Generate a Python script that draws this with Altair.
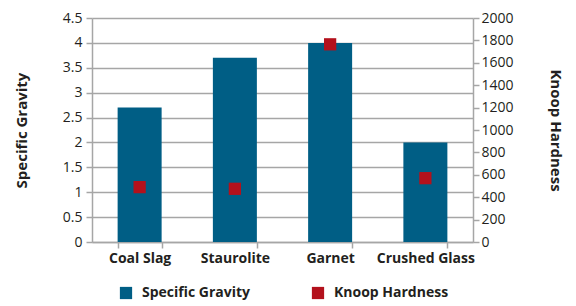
import altair as alt
import pandas as pd

categories = ["Coal Slag", "Staurolite", "Garnet", "Crushed Glass"]
specific_gravity = [2.7, 3.7, 4.0, 2.0]
knoop_hardness = [490, 475, 1765, 570]

df = pd.DataFrame({
    "Material": categories,
    "SG": specific_gravity,
    "Knoop": knoop_hardness,
    "s1": ["Specific Gravity"] * 4,
    "s2": ["Knoop Hardness"] * 4,
})

FONT = "Open Sans"
TXT = "#231f20"
GRID = "#a6a6a6"
color_scale = alt.Scale(domain=["Specific Gravity", "Knoop Hardness"], range=["#005E85", "#B3111C"])

x = alt.X("Material:N", sort=categories, title=None,
          scale=alt.Scale(paddingInner=0.54, paddingOuter=0.27),
          axis=alt.Axis(labelAngle=0, labelFont=FONT, labelFontWeight="bold", labelFontSize=14,
                        labelColor=TXT, tickBand="extent", tickColor=GRID, tickSize=6,
                        domainColor=GRID, domainWidth=1.5, tickWidth=1.5, labelPadding=3))

bars = alt.Chart(df).mark_bar(size=44).encode(
    x=x,
    y=alt.Y("SG:Q", title="Specific Gravity",
            scale=alt.Scale(domain=[0, 4.5]),
            axis=alt.Axis(values=[0, 0.5, 1, 1.5, 2, 2.5, 3, 3.5, 4, 4.5], format="~g", labelFont=FONT,
                          labelFontSize=14, labelColor=TXT, titleFont=FONT, titleFontSize=15,
                          titleFontWeight="bold", titleColor=TXT, gridColor=GRID, gridWidth=1.5,
                          tickColor=GRID, tickWidth=1.5, tickSize=6, domainColor=GRID, domainWidth=1.5,
                          titlePadding=33, labelPadding=4)),
    color=alt.Color("s1:N", scale=color_scale, title=None),
)

points = alt.Chart(df).mark_point(shape="square", filled=True, size=150, opacity=1).encode(
    x=x,
    y=alt.Y("Knoop:Q", title="Knoop Hardness",
            scale=alt.Scale(domain=[0, 2000]),
            axis=alt.Axis(orient="right", values=list(range(0, 2001, 200)), format="d", labelFont=FONT,
                          labelFontSize=14, labelColor=TXT, titleFont=FONT, titleFontSize=15,
                          titleFontWeight="bold", titleColor=TXT, grid=False,
                          tickColor=GRID, tickWidth=1.5, tickSize=6, domainColor=GRID, domainWidth=1.5,
                          titlePadding=34, labelPadding=2)),
    color=alt.Color("s2:N", scale=color_scale, title=None),
)

chart = alt.layer(bars, points).resolve_scale(y="independent").properties(
    width=381, height=224,
    autosize=alt.AutoSizeParams(type="none"),
    padding={"left": 84, "top": 10, "right": 95, "bottom": 64},
).configure_legend(
    orient="none", legendX=27, legendY=268, direction="horizontal",
    symbolType="square", symbolSize=150, symbolStrokeWidth=0,
    labelFont=FONT, labelFontSize=14, labelFontWeight="bold", labelColor=TXT,
    columnPadding=60, labelOffset=9, labelLimit=300,
).configure_view(stroke=None)

chart.save("out.html", embed_options={"renderer": "svg", "actions": False})
